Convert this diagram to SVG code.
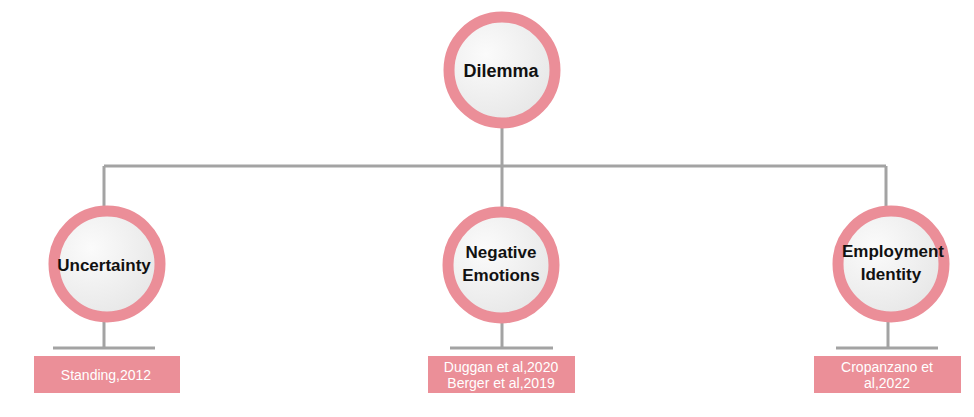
<svg xmlns="http://www.w3.org/2000/svg" width="974" height="417" viewBox="0 0 974 417">
<defs>
<radialGradient id="g" cx="0.35" cy="0.35" r="0.8">
<stop offset="0" stop-color="#fbfbfb"/>
<stop offset="1" stop-color="#e4e4e4"/>
</radialGradient>
<style>
.c{fill:url(#g);stroke:#eb8e98;stroke-width:11}
.t{font-family:"Liberation Sans",Arial,sans-serif;font-weight:bold;font-size:17px;fill:#111;text-anchor:middle}
.b{fill:#eb8f98}
.bt{font-family:"Liberation Sans",Arial,sans-serif;font-size:14px;fill:#fff;text-anchor:middle}
.l{stroke:#a3a3a3;stroke-width:3;fill:none}
</style>
</defs>
<rect width="974" height="417" fill="#fff"/>
<g id="connectors">
<path class="l" d="M502 128 V166 M104 166 H886 M104 166 V206 M502 166 V208 M886 166 V206"/>
<path class="l" d="M104 320 V348 M53 348 H155"/>
<path class="l" d="M502 320 V348 M450 348 H553"/>
<path class="l" d="M888 320 V348 M836 348 H938"/>
</g>
<g id="dilemma">
<circle class="c" cx="502" cy="70" r="53"/>
<text class="t" x="501" y="77" style="font-size:18px">Dilemma</text>
</g>
<g id="uncertainty">
<circle class="c" cx="107" cy="264" r="53"/>
<text class="t" x="104" y="271">Uncertainty</text>
</g>
<g id="negative">
<circle class="c" cx="501" cy="265" r="53"/>
<text class="t" x="501" y="258">Negative</text>
<text class="t" x="501" y="281">Emotions</text>
</g>
<g id="employment">
<circle class="c" cx="891" cy="264" r="53"/>
<text class="t" x="893" y="257">Employment</text>
<text class="t" x="891" y="280">Identity</text>
</g>
<g id="ref1">
<rect class="b" x="34" y="356" width="146" height="37"/>
<text class="bt" x="106" y="380">Standing,2012</text>
</g>
<g id="ref2">
<rect class="b" x="428" y="356" width="147" height="37"/>
<text class="bt" x="501" y="372">Duggan et al,2020</text>
<text class="bt" x="501" y="388">Berger et al,2019</text>
</g>
<g id="ref3">
<rect class="b" x="814" y="356" width="147" height="37"/>
<text class="bt" x="887" y="372">Cropanzano et</text>
<text class="bt" x="887" y="388">al,2022</text>
</g>
</svg>
